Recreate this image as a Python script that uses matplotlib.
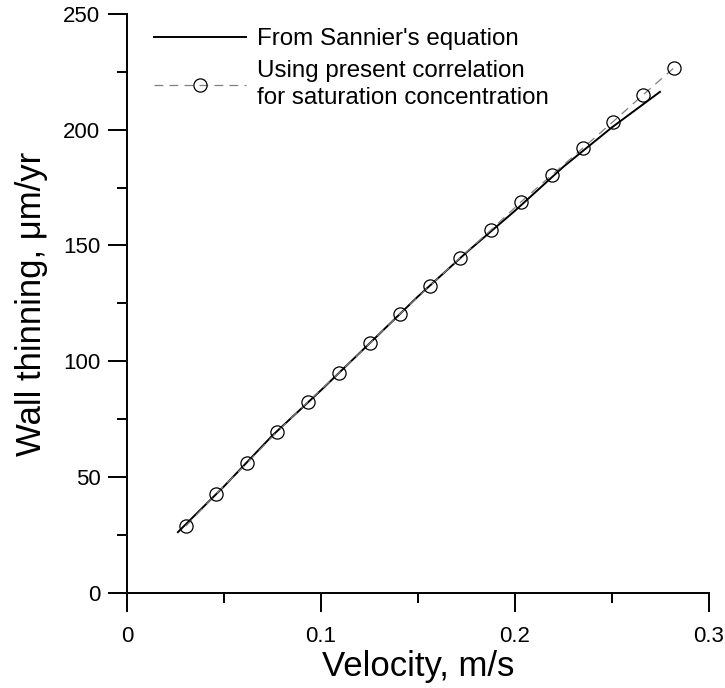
import matplotlib.pyplot as plt
from matplotlib.ticker import MultipleLocator

# Sannier's equation (solid line)
sannier_v = [0.0263, 0.05, 0.075, 0.1, 0.125, 0.15, 0.175, 0.2, 0.225, 0.25, 0.2747]
sannier_wt = [26.3, 46.0, 68.0, 87.5, 107.7, 128.0, 147.0, 165.0, 184.0, 201.0, 216.3]

# present correlation (dashed with circles)
present_v = [0.0304, 0.0459, 0.0619, 0.0773, 0.0933, 0.1093, 0.1253, 0.1407, 0.1562,
             0.1716, 0.1876, 0.2031, 0.2191, 0.2351, 0.2505, 0.266, 0.282]
present_wt = [28.9, 42.7, 56.1, 69.5, 82.5, 95.0, 107.9, 120.5, 132.6,
              144.6, 156.7, 168.8, 180.5, 192.1, 203.4, 215.0, 226.7]

plt.rcParams['font.family'] = ['Liberation Sans', 'DejaVu Sans']

fig = plt.figure(figsize=(7.25, 6.88), dpi=100)
ax = fig.add_axes([0.175, 0.138, 0.803, 0.842])

ax.plot(sannier_v, sannier_wt, color='black', linewidth=1.4,
        label="From Sannier's equation")
ax.plot(present_v, present_wt, color='#808080', linewidth=0.9, linestyle=(0, (7, 5)),
        marker='o', markersize=9.5, markerfacecolor='none', markeredgecolor='black',
        markeredgewidth=0.9,
        label='Using present correlation\nfor saturation concentration')

ax.set_xlim(0, 0.3)
ax.set_ylim(0, 250)
ax.set_xticks([0, 0.1, 0.2, 0.3])
ax.set_xticklabels(['0', '0.1', '0.2', '0.3'])
ax.xaxis.set_minor_locator(MultipleLocator(0.05))
ax.yaxis.set_major_locator(MultipleLocator(50))
ax.yaxis.set_minor_locator(MultipleLocator(25))

for s in ['top', 'right']:
    ax.spines[s].set_visible(False)
for s in ['left', 'bottom']:
    ax.spines[s].set_linewidth(1.4)

ax.tick_params(axis='x', which='major', pad=10)
ax.tick_params(axis='y', which='major', pad=5)
ax.tick_params(which='major', direction='out', length=14, width=1.4, labelsize=16)
ax.tick_params(which='minor', direction='out', length=7.5, width=1.4)

ax.set_xlabel('Velocity, m/s', fontsize=25, labelpad=2)
ax.set_ylabel('Wall thinning, \u03bcm/yr', fontsize=25, labelpad=11)

leg = ax.legend(loc='upper left', bbox_to_anchor=(0.022, 1.0), frameon=False, fontsize=17.4,
                handlelength=3.8, handletextpad=0.45, labelspacing=0.4, borderaxespad=0.2)
for t in leg.get_texts():
    t.set_linespacing(1.3)

fig.savefig('out.png', dpi=100)
